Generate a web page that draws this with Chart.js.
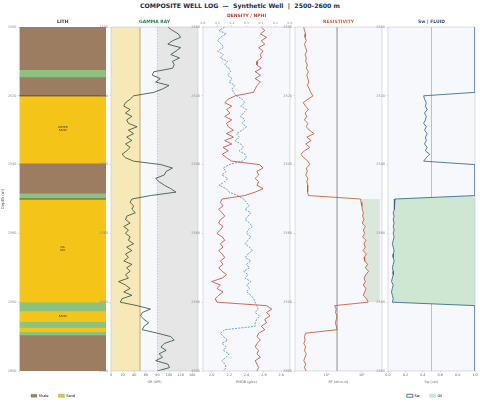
<!DOCTYPE html>
<html>
<head>
<meta charset="utf-8">
<script src="https://cdn.jsdelivr.net/npm/chart.js@4.4.1/dist/chart.umd.min.js"></script>
<style>
  html, body { margin: 0; padding: 0; background: #fff; }
  #wrap { position: relative; width: 480px; height: 408px; overflow: hidden; font-family: 'DejaVu Sans', sans-serif; }
  #title { position: absolute; left: 0; top: 2px; width: 480px; text-align: center; font-weight: bold; font-size: 6.2px; color: #1c2b4a; white-space: pre; }
  canvas { position: absolute; top: 0; }
</style>
</head>
<body>
<div id="wrap">
  <div id="title">COMPOSITE WELL LOG  —  Synthetic Well  |  2500-2600 m</div>
</div>
<script>
// depth samples (m)
var DEPTH = [
  2500, 2501, 2502, 2503, 2504, 2505, 2506, 2507, 2508, 2509,
  2510, 2511, 2512, 2513, 2514, 2515, 2516, 2517, 2518, 2519,
  2520, 2521, 2522, 2523, 2524, 2525, 2526, 2527, 2528, 2529,
  2530, 2531, 2532, 2533, 2534, 2535, 2536, 2537, 2538, 2539,
  2540, 2541, 2542, 2543, 2544, 2545, 2546, 2547, 2548, 2549,
  2550, 2551, 2552, 2553, 2554, 2555, 2556, 2557, 2558, 2559,
  2560, 2561, 2562, 2563, 2564, 2565, 2566, 2567, 2568, 2569,
  2570, 2571, 2572, 2573, 2574, 2575, 2576, 2577, 2578, 2579,
  2580, 2581, 2582, 2583, 2584, 2585, 2586, 2587, 2588, 2589,
  2590, 2591, 2592, 2593, 2594, 2595, 2596, 2597, 2598, 2599, 2600
];
var DEPTH_TICKS = [2500, 2520, 2540, 2560, 2580, 2600];

var GR = [
  98, 106, 116, 120, 106, 98, 120, 112, 103, 118,
  106, 109, 106, 74, 71, 85, 77, 100, 89, 74,
  39, 33, 25, 22, 33, 25, 36, 27, 30, 45,
  30, 39, 27, 36, 25, 33, 27, 19, 25, 39,
  86, 106, 95, 92, 77, 83, 92, 103, 112, 68,
  36, 33, 39, 36, 42, 27, 25, 33, 22, 30,
  25, 33, 30, 39, 27, 36, 25, 30, 22, 36,
  27, 33, 25, 30, 13, 25, 33, 22, 36, 19,
  16, 45, 68, 54, 51, 57, 65, 57, 54, 80,
  103, 109, 92, 86, 95, 83, 89, 77, 98, 101, 80
];
var RHOB = [
  2.57, 2.61, 2.56, 2.63, 2.57, 2.61, 2.54, 2.59, 2.56, 2.57,
  2.52, 2.52, 2.57, 2.50, 2.56, 2.50, 2.56, 2.52, 2.50, 2.48,
  2.27, 2.19, 2.15, 2.23, 2.17, 2.21, 2.15, 2.23, 2.17, 2.19,
  2.25, 2.17, 2.25, 2.15, 2.23, 2.13, 2.19, 2.12, 2.17, 2.23,
  2.55, 2.59, 2.52, 2.54, 2.50, 2.54, 2.52, 2.59, 2.50, 2.38,
  2.12, 2.10, 2.13, 2.08, 2.12, 2.15, 2.10, 2.08, 2.13, 2.10,
  2.06, 2.12, 2.15, 2.10, 2.13, 2.08, 2.12, 2.15, 2.10, 2.13,
  2.08, 2.12, 2.17, 2.12, 2.00, 2.10, 2.06, 2.13, 2.08, 2.04,
  2.06, 2.63, 2.69, 2.63, 2.67, 2.61, 2.63, 2.57, 2.61, 2.54,
  2.52, 2.56, 2.52, 2.50, 2.54, 2.52, 2.56, 2.50, 2.52, 2.54, 2.52
];
var NPHI = [
  0.45, 0.49, 0.44, 0.48, 0.50, 0.47, 0.46, 0.50, 0.46, 0.48,
  0.43, 0.45, 0.42, 0.41, 0.43, 0.40, 0.42, 0.38, 0.40, 0.39,
  0.37, 0.33, 0.31, 0.34, 0.30, 0.32, 0.34, 0.31, 0.33, 0.30,
  0.33, 0.37, 0.35, 0.38, 0.34, 0.32, 0.35, 0.31, 0.30, 0.33,
  0.42, 0.46, 0.44, 0.47, 0.43, 0.45, 0.49, 0.44, 0.42, 0.36,
  0.32, 0.30, 0.28, 0.31, 0.27, 0.29, 0.31, 0.28, 0.26, 0.29,
  0.30, 0.27, 0.29, 0.31, 0.28, 0.26, 0.29, 0.31, 0.27, 0.30,
  0.28, 0.32, 0.29, 0.31, 0.27, 0.30, 0.28, 0.30, 0.27, 0.25,
  0.24, 0.23, 0.22, 0.24, 0.21, 0.23, 0.24, 0.24, 0.45, 0.48,
  0.46, 0.43, 0.47, 0.44, 0.46, 0.42, 0.44, 0.47, 0.45, 0.44, 0.46
];
var RT = [
  0.23, 0.24, 0.26, 0.25, 0.27, 0.24, 0.26, 0.28, 0.25, 0.27,
  0.26, 0.29, 0.27, 0.31, 0.28, 0.30, 0.32, 0.29, 0.33, 0.36,
  0.42, 0.30, 0.22, 0.26, 0.31, 0.25, 0.28, 0.24, 0.30, 0.27,
  0.33, 0.45, 0.28, 0.37, 0.26, 0.34, 0.24, 0.19, 0.23, 0.30,
  0.34, 0.27, 0.29, 0.26, 0.30, 0.28, 0.30, 0.29, 0.30, 0.31,
  9.2, 9.5, 10.0, 10.3, 11.0, 10.5, 11.5, 10.2, 12.5, 11.0,
  12.0, 10.5, 13.0, 11.5, 12.5, 10.8, 13.5, 11.5, 12.0, 14.5,
  12.5, 15.5, 13.0, 11.5, 12.5, 11.0, 13.0, 12.0, 11.0, 13.5,
  15.0, 1.7, 1.9, 1.8, 2.0, 1.9, 1.8, 1.9, 2.0, 0.26,
  0.24, 0.25, 0.23, 0.26, 0.24, 0.27, 0.25, 0.23, 0.26, 0.24, 0.27
];
var SW = [
  1.0, 1.0, 1.0, 1.0, 1.0, 1.0, 1.0, 1.0, 1.0, 1.0,
  1.0, 1.0, 1.0, 1.0, 1.0, 1.0, 1.0, 1.0, 1.0, 1.0,
  0.41, 0.42, 0.44, 0.43, 0.45, 0.42, 0.44, 0.43, 0.41, 0.44,
  0.42, 0.45, 0.43, 0.44, 0.42, 0.45, 0.43, 0.48, 0.44, 0.41,
  1.0, 1.0, 1.0, 1.0, 1.0, 1.0, 1.0, 1.0, 1.0, 1.0,
  0.08, 0.08, 0.07, 0.07, 0.06, 0.07, 0.06, 0.07, 0.06, 0.07,
  0.06, 0.07, 0.06, 0.05, 0.06, 0.07, 0.06, 0.06, 0.07, 0.06,
  0.05, 0.06, 0.06, 0.05, 0.04, 0.06, 0.05, 0.04, 0.05, 0.06,
  0.05, 1.0, 1.0, 1.0, 1.0, 1.0, 1.0, 1.0, 1.0, 1.0,
  1.0, 1.0, 1.0, 1.0, 1.0, 1.0, 1.0, 1.0, 1.0, 1.0, 1.0
];

// lithology column
var LITH_TOP  = [2500, 2512.4, 2514.5, 2520, 2539.6, 2548.3, 2550, 2580, 2582.5, 2585.6, 2587.3, 2588.6, 2589.5];
var LITH_BASE = [2512.4, 2514.5, 2520, 2539.6, 2548.3, 2550, 2580, 2582.5, 2585.6, 2587.3, 2588.6, 2589.5, 2600];
var LITH_TYPE = ['Shale', 'Silt', 'Shale', 'Sand', 'Shale', 'Silt', 'Sand', 'Silt', 'Sand', 'Silt', 'Sand', 'Silt', 'Shale'];
var LITH_LEGEND = ['Shale', 'Sand'];
var ZONE_LABELS = ['WATER\nSAND', 'OIL\nPAY', 'SAND'];
var ZONE_DEPTHS = [2529.5, 2564.5, 2584.2];
var CONTACTS = [2520, 2550];

var GR_TICKS = [0, 20, 40, 60, 80, 100, 120, 140];
var RHOB_TICKS = [2.0, 2.2, 2.4, 2.6, 2.8];
var NPHI_TICKS = [0.6, 0.5, 0.4, 0.3, 0.2, 0.1, 0.0];
var RT_TICKS = [1, 10];
var SW_TICKS = [0, 0.2, 0.4, 0.6, 0.8, 1.0];

var GR_SAND_CUT = 50, GR_SHALE_CUT = 80;
var RT_CUT = 2, SW_CUT = 0.5;
var HC_TOP = 2550, HC_BASE = 2580;

var LITH_COLORS = { Shale: '#9c7d62', Sand: '#f4c518', Silt: '#8dc27e' };
var TRACK_BG = '#f6f8fb';

Chart.defaults.font.family = "'DejaVu Sans', sans-serif";
Chart.defaults.color = '#666';
Chart.defaults.animation = false;

// chart-area background + frame
var trackFrame = {
  id: 'trackFrame',
  beforeDraw: function(chart, args, opts) {
    var a = chart.chartArea, ctx = chart.ctx;
    if (opts.bg) {
      ctx.save();
      ctx.fillStyle = opts.bg;
      ctx.fillRect(a.left, a.top, a.right - a.left, a.bottom - a.top);
      ctx.restore();
    }
  },
  afterDraw: function(chart, args, opts) {
    var a = chart.chartArea, ctx = chart.ctx;
    if (opts.frame) {
      ctx.save();
      ctx.strokeStyle = opts.frame;
      ctx.lineWidth = 0.6;
      ctx.strokeRect(a.left, a.top, a.right - a.left, a.bottom - a.top);
      ctx.restore();
    }
  }
};

// zone names and reservoir tops on the lith column
var lithNotes = {
  id: 'lithNotes',
  afterDatasetsDraw: function(chart) {
    var y = chart.scales.y, a = chart.chartArea, ctx = chart.ctx;
    ctx.save();
    ctx.strokeStyle = '#4d4a26';
    ctx.lineWidth = 0.8;
    CONTACTS.forEach(function(d) {
      var py = y.getPixelForValue(d);
      ctx.beginPath(); ctx.moveTo(a.left, py); ctx.lineTo(a.right, py); ctx.stroke();
    });
    ctx.fillStyle = '#3a3320';
    ctx.font = "2.8px 'DejaVu Sans'";
    ctx.textAlign = 'center';
    ctx.textBaseline = 'middle';
    ZONE_LABELS.forEach(function(t, i) {
      var lines = t.split('\n');
      var py = y.getPixelForValue(ZONE_DEPTHS[i]);
      lines.forEach(function(l, k) {
        ctx.fillText(l, (a.left + a.right) / 2, py + (k - (lines.length - 1) / 2) * 3.4);
      });
    });
    ctx.restore();
  }
};

function fixW(w) { return function(s) { s.width = w; }; }
function fixH(h) { return function(s) { s.height = h; }; }
function setTicks(vals) { return function(s) { s.ticks = vals.map(function(v) { return { value: v }; }); }; }

function pts(xs, lo, hi) {
  var out = [];
  DEPTH.forEach(function(d, i) {
    if ((lo === undefined || d >= lo) && (hi === undefined || d <= hi)) out.push({ x: xs[i], y: d });
  });
  return out;
}
function vline(v) { return [{ x: v, y: DEPTH[0] }, { x: v, y: DEPTH[DEPTH.length - 1] }]; }

function makeCanvas(left, width) {
  var c = document.createElement('canvas');
  c.width = width; c.height = 408;
  c.style.left = left + 'px';
  document.getElementById('wrap').appendChild(c);
  return c;
}

function depthAxis(w, title) {
  return {
    type: 'linear', position: 'left', reverse: true,
    min: DEPTH[0], max: DEPTH[DEPTH.length - 1],
    afterFit: fixW(w), afterBuildTicks: setTicks(DEPTH_TICKS),
    border: { display: false },
    grid: { drawOnChartArea: false, tickLength: 1.5, color: '#aaa', lineWidth: 0.4 },
    ticks: { font: { size: 3.4 }, color: '#8a8a8a', padding: 1.5, autoSkip: false, maxRotation: 0,
      callback: function(v) { return String(v); } },
    title: { display: !!title, text: title || '', font: { size: 4 }, color: '#555', padding: 1 }
  };
}

function bottomAxis(extra) {
  var ax = {
    position: 'bottom', afterFit: fixH(13),
    border: { display: false },
    grid: { drawOnChartArea: false, tickLength: 1.5, color: '#aaa', lineWidth: 0.4 },
    ticks: { font: { size: 3.4 }, color: '#666', padding: 1, autoSkip: false, maxRotation: 0, minRotation: 0 },
    title: { display: true, text: extra.label, font: { size: 3.4 }, color: '#666', padding: { top: 0.5, bottom: 0 } }
  };
  ax.type = extra.type; ax.min = extra.min; ax.max = extra.max;
  ax.afterBuildTicks = setTicks(extra.ticks);
  ax.ticks.callback = extra.fmt;
  return ax;
}

function trackTitle(text, color, topAxis) {
  return {
    display: true, text: text, color: color, fullSize: false,
    font: { size: 4.5, weight: 'bold' },
    padding: topAxis ? { top: 13.6, bottom: 2 } : { top: 19.6, bottom: 2 }
  };
}

function lineOpts(title, scales, legend, padBottom) {
  return {
    responsive: false, animation: false, indexAxis: 'y',
    layout: { padding: { left: 0, right: 4, top: 0, bottom: padBottom } },
    plugins: {
      title: title,
      legend: legend || { display: false },
      tooltip: { enabled: false },
      trackFrame: { bg: TRACK_BG, frame: '#c3c7cc' }
    },
    scales: scales
  };
}

function fmt1(v) { return Number(v).toFixed(1); }

// ---- LITH ----
new Chart(makeCanvas(0, 110), {
  type: 'bar',
  data: {
    labels: ['LITH'],
    datasets: LITH_TOP.map(function(t, i) {
      return {
        label: LITH_TYPE[i], data: [[t, LITH_BASE[i]]],
        backgroundColor: LITH_COLORS[LITH_TYPE[i]], borderWidth: 0,
        grouped: false, barPercentage: 1, categoryPercentage: 1
      };
    })
  },
  options: {
    responsive: false, animation: false,
    layout: { padding: { left: 0, right: 4, top: 0, bottom: 0.5 } },
    plugins: {
      title: trackTitle('LITH', '#333', false),
      legend: {
        display: true, position: 'bottom',
        labels: {
          font: { size: 3.5 }, boxWidth: 6, boxHeight: 3, padding: 10, color: '#444',
          generateLabels: function() {
            return LITH_LEGEND.map(function(n) {
              return { text: n, fillStyle: LITH_COLORS[n], strokeStyle: '#777', lineWidth: 0.3, hidden: false };
            });
          }
        }
      },
      tooltip: { enabled: false },
      trackFrame: {}
    },
    scales: {
      x: { type: 'category', afterFit: fixH(13), ticks: { display: false }, grid: { display: false }, border: { display: false } },
      y: depthAxis(19.5, 'Depth (m)')
    }
  },
  plugins: [trackFrame, lithNotes]
});

// ---- GAMMA RAY ----
new Chart(makeCanvas(97, 105), {
  type: 'line',
  data: {
    datasets: [
      { data: pts(GR), borderColor: '#2f4a3b', borderWidth: 0.8, pointRadius: 0, fill: false, order: 0 },
      { data: vline(GR_SAND_CUT), borderColor: '#cbbd8a', borderWidth: 0.6, pointRadius: 0,
        fill: { value: 0 }, backgroundColor: '#f7e8b8', order: 2 },
      { data: vline(GR_SHALE_CUT), borderColor: '#9a9a9a', borderWidth: 0.5, borderDash: [1.5, 1.5], pointRadius: 0,
        fill: { value: 150 }, backgroundColor: '#e6e6e6', order: 3 }
    ]
  },
  options: lineOpts(trackTitle('GAMMA RAY', '#2e7d55', false), {
    x: bottomAxis({ type: 'linear', min: 0, max: 150, ticks: GR_TICKS, label: 'GR (API)', fmt: function(v) { return String(v); } }),
    y: depthAxis(14)
  }, null, 24),
  plugins: [trackFrame]
});

// ---- DENSITY / NPHI ----
var densOpts = lineOpts(trackTitle('DENSITY / NPHI', '#c0392b', true), {
  x: bottomAxis({ type: 'linear', min: 1.9, max: 2.9, ticks: RHOB_TICKS, label: 'RHOB (g/cc)', fmt: fmt1 }),
  x2: {
    type: 'linear', position: 'top', min: 0, max: 0.6, reverse: true,
    afterFit: fixH(6), afterBuildTicks: setTicks(NPHI_TICKS),
    border: { display: false },
    grid: { drawOnChartArea: false, tickLength: 1.5, color: '#aaa', lineWidth: 0.4 },
    ticks: { font: { size: 3 }, color: '#7a8ea6', padding: 0.5, autoSkip: false, maxRotation: 0, callback: fmt1 }
  },
  y: depthAxis(14)
}, null, 24);
new Chart(makeCanvas(189, 105), {
  type: 'line',
  data: {
    datasets: [
      { data: pts(RHOB), borderColor: '#c0392b', borderWidth: 0.75, pointRadius: 0, fill: false, xAxisID: 'x' },
      { data: pts(NPHI), borderColor: '#3f78b4', borderWidth: 0.7, borderDash: [2, 1.2], pointRadius: 0, fill: false, xAxisID: 'x2' }
    ]
  },
  options: densOpts,
  plugins: [trackFrame]
});

// ---- RESISTIVITY ----
new Chart(makeCanvas(281, 105), {
  type: 'line',
  data: {
    datasets: [
      { data: pts(RT), borderColor: '#c4502a', borderWidth: 0.8, pointRadius: 0, fill: false, order: 0 },
      { data: pts(RT, HC_TOP, HC_BASE), borderWidth: 0, borderColor: 'rgba(0,0,0,0)', pointRadius: 0,
        fill: { value: 32 }, backgroundColor: '#dbe6dd', order: 1 },
      { data: vline(RT_CUT), borderColor: '#a3a9af', borderWidth: 0.6, pointRadius: 0, fill: false, order: 2 }
    ]
  },
  options: lineOpts(trackTitle('RESISTIVITY', '#d0602a', false), {
    x: bottomAxis({ type: 'logarithmic', min: 0.13, max: 37, ticks: RT_TICKS, label: 'RT (ohm.m)',
      fmt: function(v) { return v === 1 ? '10\u2070' : '10\u00b9'; } }),
    y: depthAxis(14)
  }, null, 24),
  plugins: [trackFrame]
});

// ---- Sw | FLUID ----
new Chart(makeCanvas(374, 105), {
  type: 'line',
  data: {
    datasets: [
      { data: pts(SW), borderColor: '#2c5d8a', borderWidth: 0.8, pointRadius: 0, fill: false, order: 0 },
      { data: pts(SW, HC_TOP - 1, HC_BASE + 1), borderWidth: 0, borderColor: 'rgba(0,0,0,0)', pointRadius: 0,
        fill: { value: 1 }, backgroundColor: '#cde7d2', order: 1 },
      { data: vline(SW_CUT), borderColor: '#b5bcc3', borderWidth: 0.6, pointRadius: 0, fill: false, order: 2 }
    ]
  },
  options: lineOpts(trackTitle('Sw | FLUID', '#2f4f78', false), {
    x: bottomAxis({ type: 'linear', min: 0, max: 1, ticks: SW_TICKS, label: 'Sw (v/v)', fmt: fmt1 }),
    y: depthAxis(14)
  }, {
    display: true, position: 'bottom',
    labels: {
      font: { size: 3.5 }, boxWidth: 6, boxHeight: 3, padding: 10, color: '#444',
      generateLabels: function() {
        return [
          { text: 'Sw', fillStyle: 'rgba(0,0,0,0)', strokeStyle: '#2c5d8a', lineWidth: 0.8, hidden: false },
          { text: 'Oil', fillStyle: '#cde7d2', strokeStyle: '#9cc7a5', lineWidth: 0.3, hidden: false }
        ];
      }
    }
  }, 0.5),
  plugins: [trackFrame]
});
</script>
</body>
</html>
